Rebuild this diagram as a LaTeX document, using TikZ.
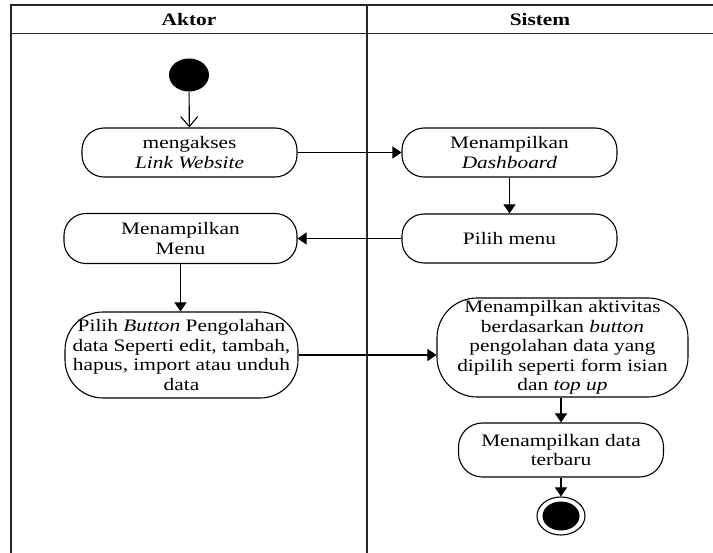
\documentclass[tikz,border=0pt]{standalone}
\usepackage{fontspec}
\setmainfont{Liberation Serif}[FakeStretch=1.22]
\usetikzlibrary{arrows.meta,shapes.geometric}
\begin{document}
\begin{tikzpicture}[x=1pt,y=-1pt,
  lane/.style={line width=1.3pt, draw=black!85},
  act/.style={draw, line width=1.1pt, rectangle, rounded corners=#1, align=center,
    inner sep=0pt, font=\fontsize{17.5}{19.5}\selectfont},
  act/.default=22pt,
  flow/.style={-{Triangle[length=9pt,width=12pt]}, line width=1.1pt},
  openflow/.style={-{Straight Barb[length=10pt,width=17pt]}, line width=1.1pt},
]
\useasboundingbox (0,0) rectangle (713,553);
\fill[white] (0,0) rectangle (713,553);

% swimlane frame and headers
\draw[lane] (11,560) -- (11,5) -- (720,5);
\draw[lane] (11,33.5) -- (720,33.5);
\draw[lane] (367,5) -- (367,560);
\node[font=\bfseries\fontsize{17.5}{20}\selectfont] (aktor) at (189,20) {Aktor};
\node[font=\bfseries\fontsize{17.5}{20}\selectfont] (sistem) at (540,20) {Sistem};

% initial state
\node[ellipse, fill=black, minimum width=40pt, minimum height=33pt, inner sep=0pt] (start) at (189,75) {};

% activities
\node[act, minimum width=215pt, minimum height=49pt] (n1) at (189.5,152.5)
  {mengakses\\\textit{Link Website}};
\node[act, minimum width=215pt, minimum height=49pt] (n2) at (509.5,152.5)
  {Menampilkan\\\textit{Dashboard}};
\node[act, minimum width=215pt, minimum height=49pt] (n3) at (509.5,238.5)
  {Pilih menu};
\node[act, minimum width=233pt, minimum height=50pt] (n4) at (180.5,238.5)
  {Menampilkan\\Menu};
\node[act=38pt, minimum width=233pt, minimum height=86pt] (n5) at (181.5,355)
  {Pilih \textit{Button} Pengolahan\\data Seperti edit, tambah,\\hapus, import atau unduh\\data};
\node[act=40pt, minimum width=251pt, minimum height=99pt] (n6) at (562.5,347.5)
  {Menampilkan aktivitas\\berdasarkan \textit{button}\\pengolahan data yang\\dipilih seperti form isian\\dan \textit{top up}};
\node[act=24pt, minimum width=205pt, minimum height=54pt] (n7) at (561,450)
  {Menampilkan data\\terbaru};

% final state
\node[ellipse, draw, line width=1.1pt, minimum width=48pt, minimum height=38pt, inner sep=0pt] (end) at (561,516) {};
\node[ellipse, fill=black, minimum width=37pt, minimum height=29pt, inner sep=0pt] (endcore) at (end.center) {};

% control flow
\draw[openflow] (start) -- (n1);
\draw[flow] (n1.east) -- (n2.west);
\draw[flow] (n2.south) -- (n3.north);
\draw[flow] (n3.west) -- (n4.east);
\draw[flow] (n4.south) -- (n4.south |- n5.north);
\draw[flow] (n5.east) -- (n5.east -| n6.west);
\draw[flow] (n6.south -| end) -- (n7.north -| end);
\draw[flow] (n7.south -| end) -- (end.north);
\end{tikzpicture}
\end{document}
